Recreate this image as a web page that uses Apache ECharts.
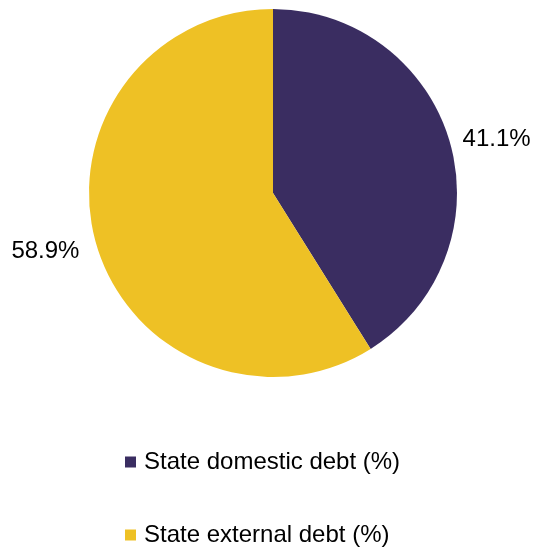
<!DOCTYPE html>
<html>
<head>
<meta charset="utf-8">
<script src="https://cdn.jsdelivr.net/npm/echarts@6/dist/echarts.min.js"></script>
<style>
  html, body { margin: 0; padding: 0; background: #fff; }
  #chart { width: 533px; height: 550px; }
</style>
</head>
<body>
<div id="chart"></div>
<script>
// Composition of state debt
const categories = ['State domestic debt (%)', 'State external debt (%)'];
const shares = [41.1, 58.9];
const colors = ['#3A2D61', '#EEC125'];

const FONT = 'Liberation Sans, Arial, sans-serif';

const chart = echarts.init(document.getElementById('chart'), null, { renderer: 'canvas' });
chart.setOption({
  animation: false,
  color: colors,
  textStyle: { fontFamily: FONT },
  legend: {
    orient: 'vertical',
    left: 125,
    top: 449,
    height: 160,
    padding: 0,
    itemWidth: 11,
    itemHeight: 11,
    itemGap: 47,
    icon: 'rect',
    textStyle: {
      fontSize: 24,
      lineHeight: 26,
      color: '#000',
      fontFamily: FONT,
      padding: [0, 0, 0, 3]
    },
    data: categories
  },
  series: [{
    type: 'pie',
    center: [273, 193],
    radius: [0, 184],
    startAngle: 90,
    clockwise: true,
    label: {
      show: true,
      position: 'outside',
      overflow: 'none',
      edgeDistance: 0,
      formatter: p => p.value.toFixed(1) + '%',
      fontSize: 24,
      color: '#000',
      fontFamily: FONT
    },
    labelLine: { show: false, length: 8, length2: 0 },
    // left-side label sits a little further out and lower
    labelLayout: p => (p.dataIndex === 1 ? { dx: -4, dy: 5 } : { dy: -1 }),
    itemStyle: { borderWidth: 0 },
    emphasis: { disabled: true },
    data: categories.map((c, i) => ({ name: c, value: shares[i] }))
  }]
});
</script>
</body>
</html>
